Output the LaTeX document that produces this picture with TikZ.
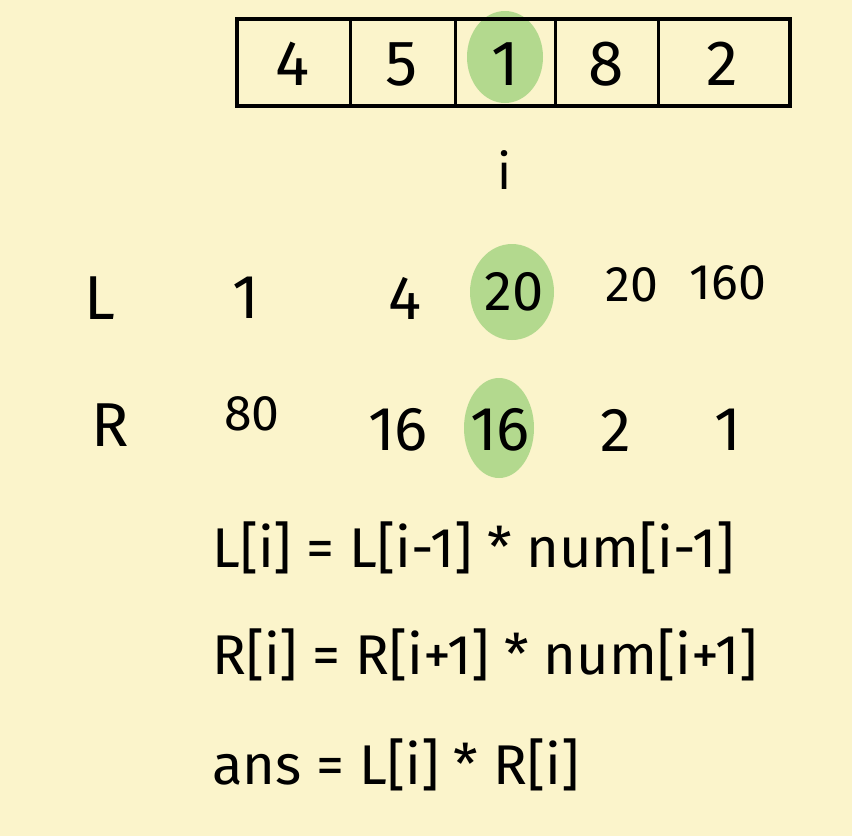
\documentclass[tikz,border=0pt]{standalone}
\usepackage{fontspec}
\setmainfont{Fira Sans}
\definecolor{paper}{HTML}{FBF4CB}
\definecolor{hl}{HTML}{B3D98E}
\begin{document}
\begin{tikzpicture}[x=1pt,y=-1pt,
  cellnum/.style={font=\fontsize{64}{64}\selectfont, inner sep=0pt},
  rownum/.style={font=\fontsize{62}{62}\selectfont, inner sep=0pt},
  smallnum/.style={font=\fontsize{50}{50}\selectfont, inner sep=0pt},
  formula/.style={font=\fontsize{56}{56}\selectfont, inner sep=0pt, anchor=west}]
\fill[paper] (0,0) rectangle (852,836);
\useasboundingbox (0,0) rectangle (852,836);
% highlights
\fill[hl] (505,57) ellipse [x radius=38, y radius=46];
\fill[hl] (512,292) ellipse [x radius=42, y radius=48];
\fill[hl] (499,428) ellipse [x radius=35, y radius=50];
% array
\draw[line width=4pt] (237,19) rectangle (790,106);
\foreach \x in {350,455,555,658} \draw[line width=3pt] (\x,19) -- (\x,106);
\node[cellnum] (a0) at (293,64) {4};
\node[cellnum] (a1) at (402,64) {5};
\node[cellnum] (a2) at (505,64) {1};
\node[cellnum] (a3) at (606,64) {8};
\node[cellnum] (a4) at (722,64) {2};
\node[smallnum] (iptr) at (505,170) {i};
% L row
\node[rownum] (Llab) at (100,298) {L};
\node[rownum] (L0) at (246,298) {1};
\node[rownum] (L1) at (405,298) {4};
\node[rownum, font=\fontsize{56}{56}\selectfont] (L2) at (514,292) {20};
\node[smallnum] (L3) at (632,285) {20};
\node[smallnum] (L4) at (728,283) {160};
% R row
\node[rownum] (Rlab) at (110,425) {R};
\node[smallnum] (R0) at (252,414) {80};
\node[rownum] (R1) at (398,430) {16};
\node[rownum] (R2) at (500,430) {16};
\node[rownum] (R3) at (616,430) {2};
\node[rownum] (R4) at (728,430) {1};
% formulas
\node[formula] (f1) at (212,548) {L[i] = L[i-1] * num[i-1]};
\node[formula] (f2) at (212,655) {R[i] = R[i+1] * num[i+1]};
\node[formula] (f3) at (212,765) {ans = L[i] * R[i]};
\end{tikzpicture}
\end{document}
